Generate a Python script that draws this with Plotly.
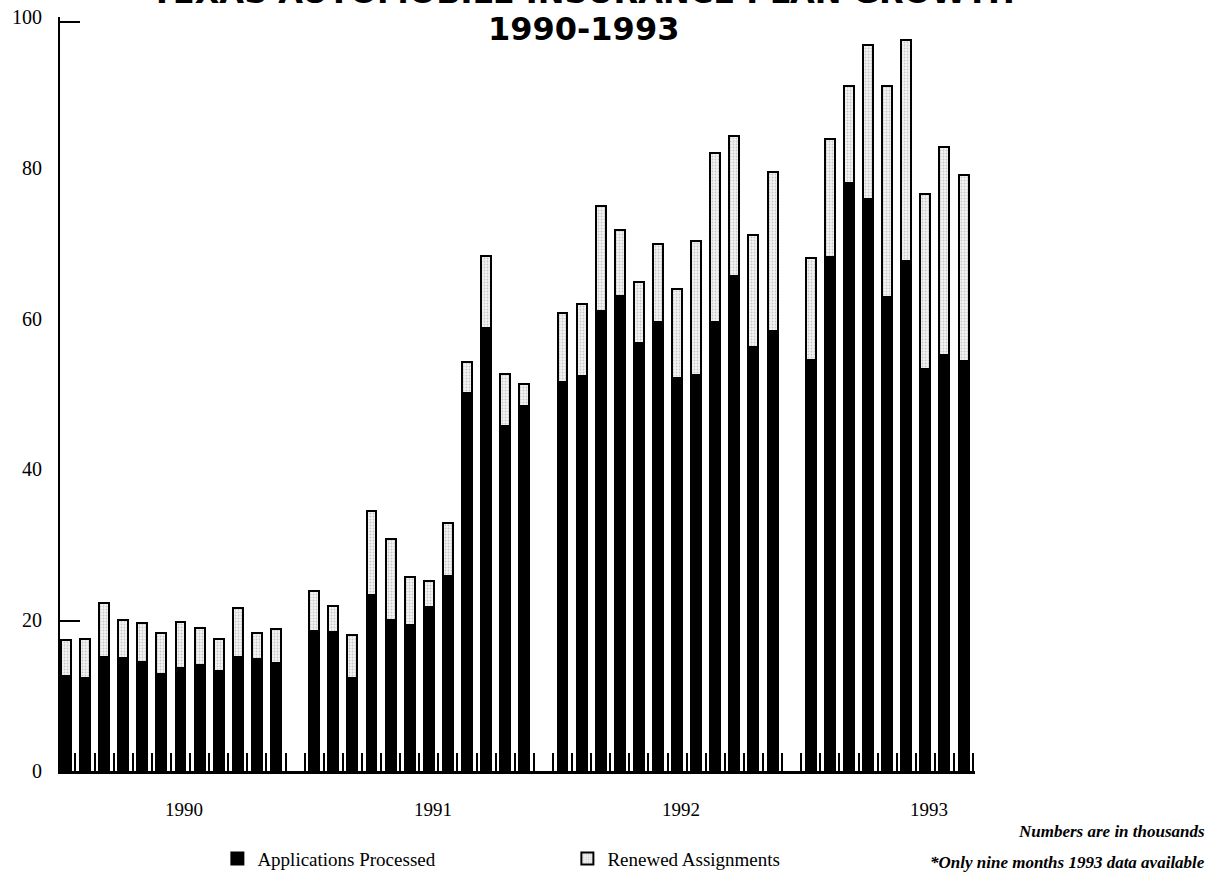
import plotly.graph_objects as go

# ---------------- data (thousands) ----------------
years = ["1990", "1991", "1992", "1993"]

applications_1990 = [12.6, 12.4, 15.1, 15.0, 14.5, 12.8, 13.7, 14.0, 13.2, 15.1, 14.8, 14.3]
renewed_1990 = [4.8, 5.1, 7.2, 5.0, 5.1, 5.5, 6.1, 5.0, 4.3, 6.5, 3.5, 4.5]

applications_1991 = [18.6, 18.4, 12.4, 23.4, 20.0, 19.3, 21.8, 25.8, 50.1, 58.7, 45.8, 48.4]
renewed_1991 = [5.3, 3.5, 5.7, 11.1, 10.8, 6.4, 3.4, 7.1, 4.2, 9.6, 6.9, 2.9]

applications_1992 = [51.6, 52.4, 61.0, 63.0, 56.7, 59.6, 52.1, 52.5, 59.6, 65.7, 56.2, 58.3]
renewed_1992 = [9.1, 9.5, 14.0, 8.8, 8.1, 10.3, 11.8, 17.8, 22.3, 18.5, 14.9, 21.2]

applications_1993 = [54.5, 68.2, 78.0, 75.8, 62.9, 67.7, 53.3, 55.2, 54.4]
renewed_1993 = [13.6, 15.6, 12.8, 20.5, 27.9, 29.2, 23.2, 27.6, 24.6]

y_tick_values = [0, 20, 40, 60, 80, 100]
y_marked_ticks = [20, 100]

applications = [applications_1990, applications_1991, applications_1992, applications_1993]
renewed = [renewed_1990, renewed_1991, renewed_1992, renewed_1993]

SLOTS_PER_YEAR = 13  # 12 months + one empty slot between years

x_pos, app_vals, ren_vals = [], [], []
for g, (a_list, r_list) in enumerate(zip(applications, renewed)):
    for m, (a, r) in enumerate(zip(a_list, r_list)):
        x_pos.append(g * SLOTS_PER_YEAR + m)
        app_vals.append(a)
        ren_vals.append(r)

n_slots = x_pos[-1] + 1
serif = "Liberation Serif, Times New Roman, serif"

fig = go.Figure()
fig.add_trace(go.Bar(
    x=x_pos, y=app_vals, name="Applications Processed", width=0.52,
    marker=dict(color="black", line=dict(color="black", width=2)),
))
fig.add_trace(go.Bar(
    x=x_pos, y=ren_vals, name="Renewed Assignments", width=0.52,
    marker=dict(color="white", line=dict(color="black", width=2),
                pattern=dict(shape=".", fgcolor="#9a9a9a", bgcolor="#f4f4f4",
                             size=3, solidity=0.3)),
))
# empty helper trace so the overlaid tick-only y axis gets drawn
fig.add_trace(go.Scatter(x=[None], y=[None], yaxis="y2", showlegend=False,
                         hoverinfo="skip", mode="markers"))

fig.update_layout(
    barmode="stack",
    width=1211, height=872,
    margin=dict(l=60, r=236, t=17, b=101, autoexpand=False),
    paper_bgcolor="white", plot_bgcolor="white",
    showlegend=True,
    legend=dict(orientation="h", x=0.172, y=-0.091, xanchor="left", yanchor="top",
                font=dict(family=serif, size=19, color="black"),
                entrywidth=305, entrywidthmode="pixels", traceorder="normal",
                itemclick=False),
    xaxis=dict(
        range=[-0.31, 47.6], showgrid=False, zeroline=False,
        showline=True, linecolor="black", linewidth=3,
        tickmode="array", tickvals=[k + 0.5 for k in range(n_slots)],
        ticks="inside", ticklen=18, tickwidth=2, tickcolor="black",
        showticklabels=False,
    ),
    yaxis=dict(
        range=[0, 100], showgrid=False, zeroline=False,
        showline=True, linecolor="black", linewidth=2,
        tickmode="array", tickvals=y_tick_values, ticks="",
        ticklabelstandoff=12,
        tickfont=dict(family=serif, size=20, color="black"),
    ),
    yaxis2=dict(
        overlaying="y", side="left", range=[0, 100.6], showgrid=False, zeroline=False,
        showline=False, tickmode="array", tickvals=y_marked_ticks, ticks="inside",
        ticklen=20, tickwidth=2, tickcolor="black", showticklabels=False,
    ),
)

annotations = []
for g, yr in enumerate(years):
    annotations.append(dict(x=g * SLOTS_PER_YEAR + 6.2, y=0, xref="x", yref="y",
                            text=yr, showarrow=False, yanchor="middle", yshift=-38,
                            font=dict(family=serif, size=19, color="black")))

title_font = dict(family="DejaVu Sans, sans-serif", size=32, color="black", weight="bold")
annotations.append(dict(x=0.5716, y=1, xref="paper", yref="paper", xanchor="center",
                        yanchor="bottom", yshift=4, showarrow=False,
                        text="TEXAS AUTOMOBILE INSURANCE PLAN GROWTH", font=title_font))
annotations.append(dict(x=0.5716, y=1, xref="paper", yref="paper", xanchor="center",
                        yanchor="bottom", yshift=-33, showarrow=False,
                        text="1990-1993", font=title_font))

note_font = dict(family=serif, size=17, color="black", style="italic", weight="bold")
annotations.append(dict(x=1.2536, y=-0.0809, xref="paper", yref="paper", xanchor="right",
                        yanchor="middle", showarrow=False,
                        text="Numbers are in thousands", font=note_font))
annotations.append(dict(x=1.2536, y=-0.122, xref="paper", yref="paper", xanchor="right",
                        yanchor="middle", showarrow=False,
                        text="*Only nine months 1993 data available", font=note_font))
fig.update_layout(annotations=annotations)

fig.write_html("out.html", config={"displayModeBar": False},
               post_script="document.body.style.margin='0';document.body.style.overflow='hidden';")
